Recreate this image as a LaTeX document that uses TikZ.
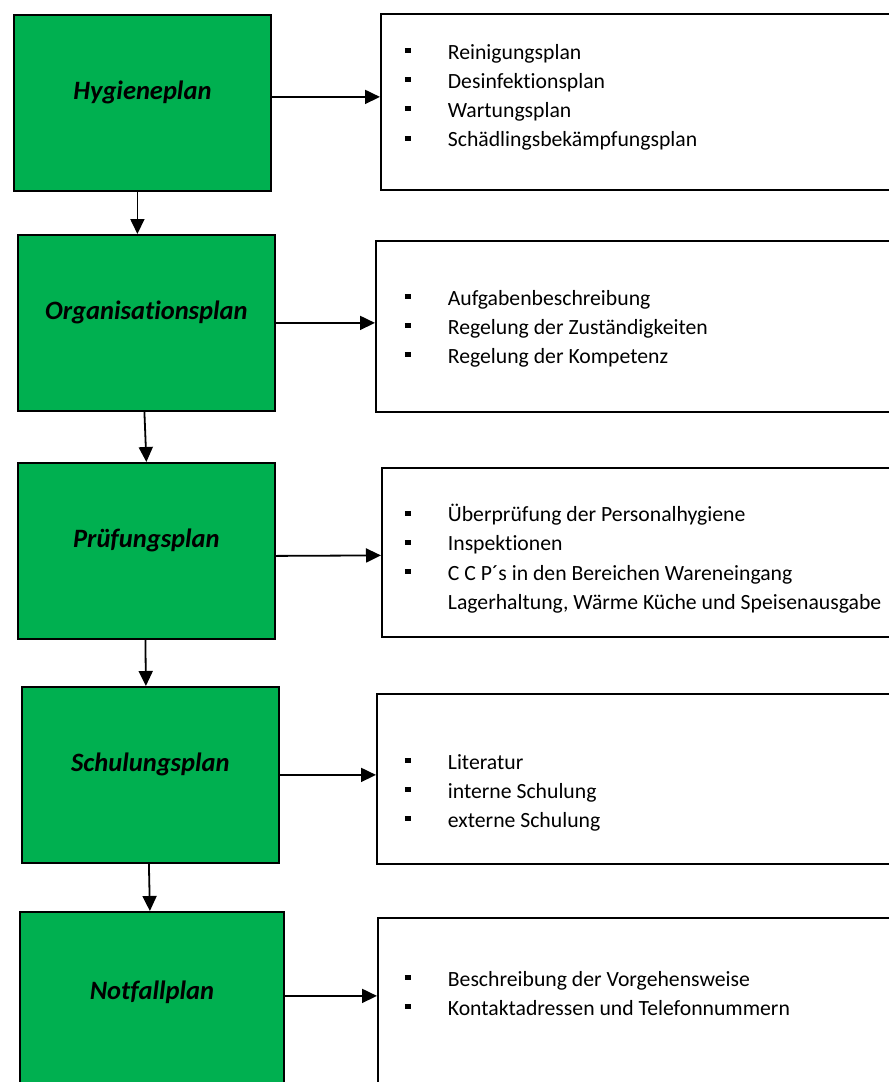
\documentclass[tikz,border=0pt]{standalone}
\usepackage{fontspec}
\setmainfont{Carlito}[Ligatures=NoCommon]
\usetikzlibrary{arrows.meta,positioning}
\definecolor{plangreen}{RGB}{0,176,80}
\newcommand{\blt}{\rule[6pt]{6pt}{5pt}}

\begin{document}
\begin{tikzpicture}[x=1pt, y=-1pt, line width=1.8pt, >={Triangle[length=15pt,width=14pt]},
	every node/.style={anchor=north west},
	plan/.style={draw, fill=plangreen, minimum width=257pt, minimum height=176pt, inner sep=0pt,
		text height=18pt, text depth=25pt, font=\fontsize{26.5}{30}\selectfont\bfseries\itshape},
	infobox/.style={draw, minimum width=560pt, minimum height=176pt, inner sep=0pt},
	items/.style={anchor=base west, inner sep=0pt, font=\fontsize{21.7}{29.2}\selectfont}]
			\useasboundingbox (0,0) rectangle (889,1082);
			\clip (0,0) rectangle (889,1082);
			% linke Spalte
			\node[plan] (p1) at (13,14) {Hygieneplan};
			\node[plan] (p2) at (17,234) {Organisationsplan};
			\node[plan] (p3) at (17,462) {Prüfungsplan};
			\node[plan] (p4) at (21,686) {Schulungsplan};
			\node[plan, minimum width=264pt, text depth=18pt] (p5) at (19,911) {Notfallplan};
			% rechte Spalte
			\node[infobox] (b1) at (380,13) {};
			\node[infobox, minimum height=171pt] (b2) at (375,240) {};
			\node[infobox, minimum height=169pt] (b3) at (381,467) {};
			\node[infobox, minimum height=170pt] (b4) at (376,693) {};
			\node[infobox] (b5) at (377,917) {};
			\node[items] (l1) at (404,59) {\begin{tabular}[t]{@{}p{43pt}@{}l@{}}
				\blt & Reinigungsplan\\ \blt & Desinfektionsplan\\ \blt & Wartungsplan\\ \blt & Schädlingsbekämpfungsplan
			\end{tabular}};
			\node[items] (l2) at (404,305) {\begin{tabular}[t]{@{}p{43pt}@{}l@{}}
				\blt & Aufgabenbeschreibung\\ \blt & Regelung der Zuständigkeiten\\ \blt & Regelung der Kompetenz
			\end{tabular}};
			\node[items] (l3) at (404,521.7) {\begin{tabular}[t]{@{}p{43pt}@{}l@{}}
				\blt & Überprüfung der Personalhygiene\\ \blt & Inspektionen\\ \blt & C C P´s in den Bereichen Wareneingang\\ & Lagerhaltung, Wärme Küche und Speisenausgabe
			\end{tabular}};
			\node[items] (l4) at (404,769) {\begin{tabular}[t]{@{}p{43pt}@{}l@{}}
				\blt & Literatur\\ \blt & interne Schulung\\ \blt & externe Schulung
			\end{tabular}};
			\node[items] (l5) at (404,986) {\begin{tabular}[t]{@{}p{43pt}@{}l@{}}
				\blt & Beschreibung der Vorgehensweise\\ \blt & Kontaktadressen und Telefonnummern
			\end{tabular}};
			% Pfeile nach rechts
			\draw[->] ([yshift=6pt]p1.east) -- ([yshift=6pt]p1.east -| b1.west);
			\draw[->] (p2.east) -- (p2.east -| b2.west);
			\draw[->] ([yshift=-5pt]p3.east) -- ([yshift=-3pt]b3.west);
			\draw[->] (p4.east) -- (p4.east -| b4.west);
			\draw[->] ([yshift=4pt]p5.east) -- ([yshift=4pt]p5.east -| b5.west);
			% Pfeile nach unten
			\draw[->] ([xshift=-5pt]p1.south) -- ([xshift=-5pt]p1.south |- p2.north);
			\draw[->] ([xshift=-2pt]p2.south) -- (p3.north);
			\draw[->] ([xshift=-1pt]p3.south) -- ([xshift=-4.5pt]p4.north);
			\draw[->] ([xshift=-1.5pt]p4.south) -- ([xshift=-2pt]p5.north);
		\end{tikzpicture}
\end{document}
